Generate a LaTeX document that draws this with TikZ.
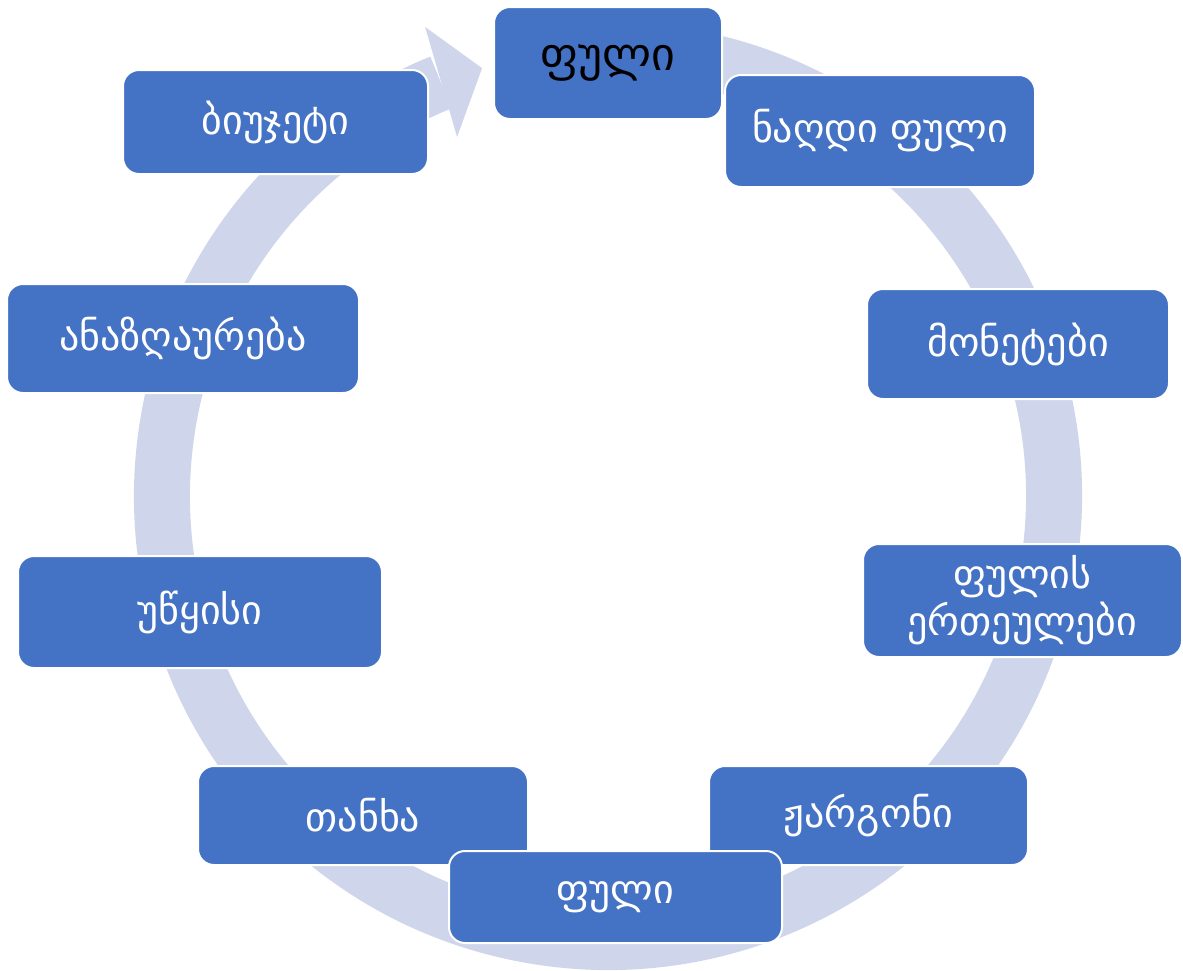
\documentclass[tikz,border=0pt]{standalone}
\usepackage{fontspec}
\usetikzlibrary{calc}
\newfontfamily\geo{DejaVu Sans}
\definecolor{boxblue}{HTML}{4472C4}
\definecolor{ringc}{HTML}{CFD5EA}
\tikzset{
  gbox/.style={draw=white, line width=2pt, fill=boxblue, rounded corners=16pt,
    text=white, inner sep=0pt, align=center,
    font=\geo\fontsize{40}{47}\selectfont},
  topbox/.style={gbox, text=black, font=\geo\fontsize{46}{52}\selectfont}
}
\begin{document}
\begin{tikzpicture}[x=1pt,y=-1pt]
\useasboundingbox (0,0) rectangle (1183,970);
\coordinate (c) at (608,496);
% ring with arrow head
\draw[ringc, line width=56pt] ($(c)+(-80:446)$) arc[start angle=-80, end angle=248, radius=446];
\fill[ringc] ($(c)+(248.7:503.5)$) -- ($(c)+(253.6:446)$) -- ($(c)+(247.2:389.5)$) -- cycle;
% boxes
\node[topbox, minimum width=228pt, minimum height=112pt] (top) at (608,63) {ფული};
\node[gbox, minimum width=310pt, minimum height=112pt] (cash) at (880,131) {ნაღდი ფული};
\node[gbox, minimum width=302pt, minimum height=110pt] (coins) at (1018,344) {მონეტები};
\node[gbox, minimum width=319pt, minimum height=113pt] (units) at (1022.5,600.5) {ფულის\\ერთეულები};
\node[gbox, minimum width=319pt, minimum height=99pt] (jargon) at (868.5,815.5) {ჟარგონი};
\node[gbox, minimum width=330pt, minimum height=99pt] (amount) at (363,815.5) {თანხა};
\node[gbox, minimum width=333pt, minimum height=92pt] (money) at (615.5,897) {ფული};
\node[gbox, minimum width=364pt, minimum height=112pt] (statement) at (200,612) {უწყისი};
\node[gbox, minimum width=352pt, minimum height=109pt] (payment) at (183,338.5) {ანაზღაურება};
\node[gbox, minimum width=305pt, minimum height=104pt] (budget) at (275.5,122) {ბიუჯეტი};
\end{tikzpicture}
\end{document}
